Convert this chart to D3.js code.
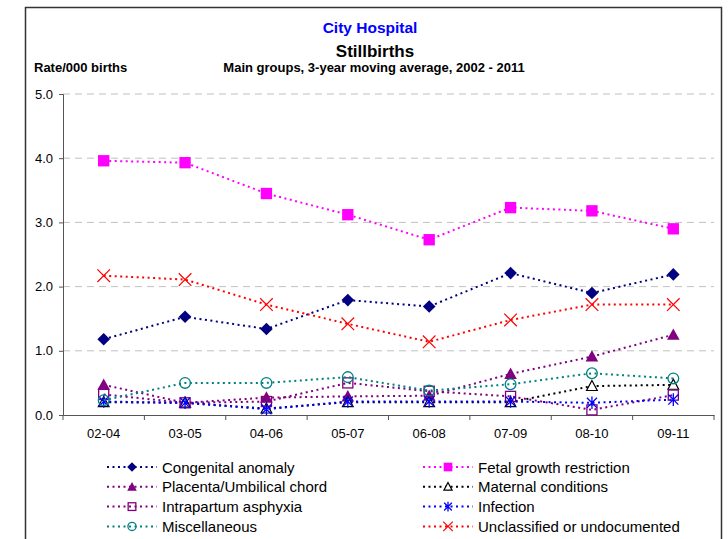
<!DOCTYPE html>
<html>
<head>
<meta charset="utf-8">
<script src="https://cdn.jsdelivr.net/npm/d3@7"></script>
<style>
  body { margin: 0; background: #fff; }
  text { font-family: "Liberation Sans", Arial, sans-serif; }
</style>
</head>
<body>
<script>
var periods = ['02-04', '03-05', '04-06', '05-07', '06-08', '07-09', '08-10', '09-11'];
var yTicks = [0, 1, 2, 3, 4, 5];

var congenital = [1.18, 1.53, 1.34, 1.79, 1.69, 2.21, 1.90, 2.19];
var fetal = [3.96, 3.93, 3.45, 3.12, 2.73, 3.23, 3.18, 2.90];
var placenta = [0.47, 0.19, 0.27, 0.29, 0.30, 0.64, 0.91, 1.25];
var maternal = [0.20, 0.19, 0.10, 0.20, 0.20, 0.20, 0.45, 0.47];
var intrapartum = [0.32, 0.19, 0.21, 0.50, 0.37, 0.29, 0.08, 0.31];
var infection = [0.21, 0.19, 0.09, 0.21, 0.21, 0.21, 0.19, 0.24];
var misc = [0.23, 0.50, 0.50, 0.59, 0.38, 0.48, 0.65, 0.57];
var unclassified = [2.17, 2.11, 1.72, 1.42, 1.14, 1.48, 1.72, 1.72];

// series in excel order (legend reads row by row)
var series = [
    { name: 'Congenital anomaly', values: congenital, color: '#000080', marker: 'diamond' },
    { name: 'Fetal growth restriction', values: fetal, color: '#ff00ff', marker: 'square' },
    { name: 'Placenta/Umbilical chord', values: placenta, color: '#800080', marker: 'triangle' },
    { name: 'Maternal conditions', values: maternal, color: '#000000', marker: 'openTriangle' },
    { name: 'Intrapartum asphyxia', values: intrapartum, color: '#800080', marker: 'openSquare' },
    { name: 'Infection', values: infection, color: '#0000ff', marker: 'star' },
    { name: 'Miscellaneous', values: misc, color: '#008080', marker: 'circle' },
    { name: 'Unclassified or undocumented', values: unclassified, color: '#ff0000', marker: 'cross' }
];

var width = 728;
var height = 539;
var margin = { left: 63, right: 14, top: 94, bottom: 124 };

var svg = d3.select("body").append("svg").attr("width", width).attr("height", height);

// outer frame
svg.append("rect")
    .attr("x", 25.5).attr("y", 7.5)
    .attr("width", 696).attr("height", 545)
    .attr("fill", "none").attr("stroke", "#333").attr("stroke-width", 1.5);

var x = d3.scaleBand()
    .domain(periods)
    .range([margin.left, width - margin.right]);

var y = d3.scaleLinear()
    .domain([0, 5])
    .range([height - margin.bottom, margin.top]);

// titles
svg.append("text").attr("x", 370).attr("y", 33)
    .attr("text-anchor", "middle").attr("font-size", 15.5).attr("font-weight", "bold")
    .attr("fill", "#0000ff").text("City Hospital");
svg.append("text").attr("x", 375).attr("y", 56.5)
    .attr("text-anchor", "middle").attr("font-size", 17).attr("font-weight", "bold")
    .text("Stillbirths");
svg.append("text").attr("x", 374).attr("y", 72)
    .attr("text-anchor", "middle").attr("font-size", 13).attr("font-weight", "bold")
    .text("Main groups, 3-year moving average, 2002 - 2011");
svg.append("text").attr("x", 34).attr("y", 72)
    .attr("font-size", 13).attr("font-weight", "bold")
    .text("Rate/000 births");

// gridlines
svg.append("g").selectAll("line")
    .data(yTicks.filter(function (d) { return d > 0; }))
    .enter().append("line")
    .attr("x1", margin.left).attr("x2", width - margin.right)
    .attr("y1", function (d) { return y(d); })
    .attr("y2", function (d) { return y(d); })
    .attr("stroke", "#c0c0c0").attr("stroke-dasharray", "7,5");

// y axis
var yAxis = d3.axisLeft(y).tickValues(yTicks).tickFormat(d3.format(".1f"))
    .tickSize(4).tickPadding(6);
var yg = svg.append("g").attr("transform", "translate(" + margin.left + ",0)").call(yAxis);
yg.selectAll("text").attr("font-size", 13).attr("fill", "#000");
yg.selectAll("line, path").attr("stroke", "#555");

// x axis: labels centred, ticks between categories
var xAxis = d3.axisBottom(x).tickSize(0).tickPadding(14);
var xg = svg.append("g").attr("transform", "translate(0," + y(0) + ")").call(xAxis);
xg.selectAll("text").attr("font-size", 13).attr("fill", "#000");
xg.select(".domain").attr("stroke", "#555");
xg.selectAll(".edge").data(d3.range(periods.length + 1))
    .enter().append("line").attr("class", "edge")
    .attr("x1", function (i) { return x.range()[0] + i * x.step(); })
    .attr("x2", function (i) { return x.range()[0] + i * x.step(); })
    .attr("y1", 0).attr("y2", 5)
    .attr("stroke", "#555");

function cx(i) { return x(periods[i]) + x.bandwidth() / 2; }

// marker drawing
function drawMarker(g, type, color, s) {
    if (type == 'diamond') {
        g.append("path").attr("d", "M0," + (-s) + "L" + s + ",0L0," + s + "L" + (-s) + ",0Z").attr("fill", color);
    } else if (type == 'square') {
        g.append("rect").attr("x", -s * 0.9).attr("y", -s * 0.9).attr("width", s * 1.8).attr("height", s * 1.8).attr("fill", color);
    } else if (type == 'triangle') {
        g.append("path").attr("d", "M0," + (-s) + "L" + s + "," + s * 0.8 + "L" + (-s) + "," + s * 0.8 + "Z").attr("fill", color);
    } else if (type == 'openTriangle') {
        g.append("path").attr("d", "M0," + (-s * 0.9) + "L" + s * 0.85 + "," + s * 0.7 + "L" + (-s * 0.85) + "," + s * 0.7 + "Z")
            .attr("fill", "#fff").attr("stroke", color).attr("stroke-width", 1.2);
    } else if (type == 'openSquare') {
        g.append("rect").attr("x", -s * 0.8).attr("y", -s * 0.8).attr("width", s * 1.6).attr("height", s * 1.6)
            .attr("fill", "none").attr("stroke", color).attr("stroke-width", 1.3);
    } else if (type == 'circle') {
        g.append("circle").attr("r", s * 0.85).attr("fill", "none").attr("stroke", color).attr("stroke-width", 1.3);
    } else if (type == 'star') {
        var a = s * 0.8;
        g.append("path").attr("d", "M" + (-a) + "," + (-a) + "L" + a + "," + a + "M" + (-a) + "," + a + "L" + a + "," + (-a) + "M0," + (-s) + "L0," + s)
            .attr("stroke", color).attr("stroke-width", 1.3);
    } else if (type == 'cross') {
        g.append("path").attr("d", "M" + (-s) + "," + (-s) + "L" + s + "," + s + "M" + (-s) + "," + s + "L" + s + "," + (-s))
            .attr("stroke", color).attr("stroke-width", 1.2);
    }
}

var line = d3.line()
    .x(function (d, i) { return cx(i); })
    .y(function (d) { return y(d); });

series.forEach(function (s) {
    var g = svg.append("g");
    g.append("path").attr("d", line(s.values))
        .attr("fill", "none").attr("stroke", s.color)
        .attr("stroke-width", 2).attr("stroke-dasharray", "2,3.5");
    s.values.forEach(function (v, i) {
        var m = g.append("g").attr("transform", "translate(" + cx(i) + "," + y(v) + ")");
        drawMarker(m, s.marker, s.color, 6.3);
    });
});

// legend, two columns
var legendCols = [107, 423];
series.forEach(function (s, k) {
    var lx = legendCols[k % 2];
    var ly = 467 + Math.floor(k / 2) * 19.8;
    var g = svg.append("g").attr("transform", "translate(" + lx + "," + ly + ")");
    g.append("line").attr("x1", 0).attr("x2", 50)
        .attr("stroke", s.color).attr("stroke-width", 2).attr("stroke-dasharray", "2,3.5");
    var m = g.append("g").attr("transform", "translate(25,0)");
    drawMarker(m, s.marker, s.color, 4.8);
    g.append("text").attr("x", 55).attr("y", 5.5)
        .attr("font-size", 15).text(s.name);
});
</script>
</body>
</html>
